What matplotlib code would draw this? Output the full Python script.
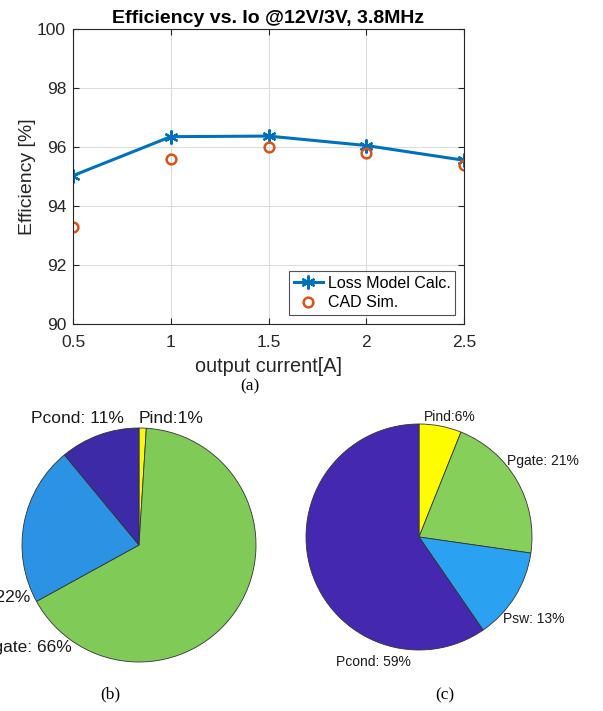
import numpy as np
import matplotlib.pyplot as plt

plt.rcParams['font.family'] = ['Liberation Sans', 'DejaVu Sans']

# efficiency sweep
current = [0.5, 1.0, 1.5, 2.0, 2.5]
eff_model = [95.03, 96.35, 96.37, 96.05, 95.55]
eff_cad = [93.29, 95.61, 96.00, 95.79, 95.40]

# loss breakdown pies (clockwise from 12 o'clock)
loss_names = ['Pind', 'Pgate', 'Psw', 'Pcond']
loss_b = [1, 66, 22, 11]
loss_c = [6, 21, 13, 59]

colors_b = ['#f8f90c', '#80cb58', '#2b92e4', '#3c2aa6']
colors_c = ['#fdfd00', '#86cf5a', '#2aa2f1', '#4429b0']

fig = plt.figure(figsize=(6.03, 7.11), dpi=100)

# ---- (a) efficiency vs output current ----
ax = fig.add_axes([73/603, 1 - 324/711, 391/603, 295/711])
ax.plot(current, eff_model, color='#0072BD', lw=2.2, marker=(6, 2, 0), ms=10, mew=1.6,
        label='Loss Model Calc.')
ax.plot(current, eff_cad, ls='none', marker='o', ms=7, mfc='none', mec='#D95319',
        mew=1.8, label='CAD Sim.')
ax.set_xlim(0.5, 2.5)
ax.set_ylim(90, 100)
ax.set_xticks(current)
ax.set_xticklabels(['0.5', '1', '1.5', '2', '2.5'])
ax.set_yticks([90, 92, 94, 96, 98, 100])
ax.grid(True, color='#dcdcdc', lw=0.8)
ax.tick_params(direction='in', top=True, right=True, labelsize=12.5, colors='#262626',
               length=4)
ax.tick_params(axis='x', pad=8)
ax.tick_params(axis='y', pad=5)
for s in ax.spines.values():
    s.set_color('#262626')
    s.set_linewidth(0.8)
ax.set_title('Efficiency vs. Io @12V/3V, 3.8MHz', fontsize=14, fontweight='bold', pad=4)
ax.set_ylabel('Efficiency [%]', fontsize=14, color='#262626', labelpad=1)
ax.set_xlabel('output current[A]', fontsize=14.3, color='#262626', labelpad=5)
leg = ax.legend(loc='lower right', fontsize=11.5, frameon=True, fancybox=False,
                edgecolor='#262626', handlelength=1.8, borderpad=0.3,
                labelspacing=0.3, handletextpad=0.3, borderaxespad=0.55)
leg.get_frame().set_linewidth(0.8)

fig.text(250/603, 1 - 386/711, '(a)', family='Liberation Serif', fontsize=12.5,
         ha='center', va='center')


def draw_pie(rect, values, colors, labels, fs):
    pax = fig.add_axes(rect)
    pax.pie(values, colors=colors, startangle=90, counterclock=False,
            wedgeprops=dict(edgecolor='#333333', linewidth=0.6))
    pax.set_xlim(-1, 1)
    pax.set_ylim(-1, 1)
    pax.set_aspect('equal')
    for text, x, y, ha in labels:
        pax.text(x, y, text, ha=ha, va='center', fontsize=fs, color='#1a1a1a',
                 clip_on=False)
    return pax


# ---- (b) ----
rb = 117
draw_pie([(139 - rb)/603, 1 - (545 + rb)/711, 2*rb/603, 2*rb/711], loss_b, colors_b,
         [('Pcond: %d%%' % loss_b[3], -0.526, 1.085, 'center'),
          ('Pind:%d%%' % loss_b[0], 0.27, 1.085, 'center'),
          ('Psw: %d%%' % loss_b[2], -0.93, -0.45, 'right'),
          ('Pgate: %d%%' % loss_b[1], -0.573, -0.88, 'right')], 12.5)

# ---- (c) ----
rc = 113
draw_pie([(419 - rc)/603, 1 - (537 + rc)/711, 2*rc/603, 2*rc/711], loss_c, colors_c,
         [('Pind:%d%%' % loss_c[0], 0.274, 1.062, 'center'),
          ('Pgate: %d%%' % loss_c[1], 0.779, 0.673, 'left'),
          ('Psw: %d%%' % loss_c[2], 0.743, -0.726, 'left'),
          ('Pcond: %d%%' % loss_c[3], -0.407, -1.106, 'center')], 10)

fig.text(110/603, 1 - 694/711, '(b)', family='Liberation Serif', fontsize=12.5,
         ha='center', va='center')
fig.text(445/603, 1 - 695/711, '(c)', family='Liberation Serif', fontsize=12.5,
         ha='center', va='center')

fig.savefig('out.png', dpi=100)
